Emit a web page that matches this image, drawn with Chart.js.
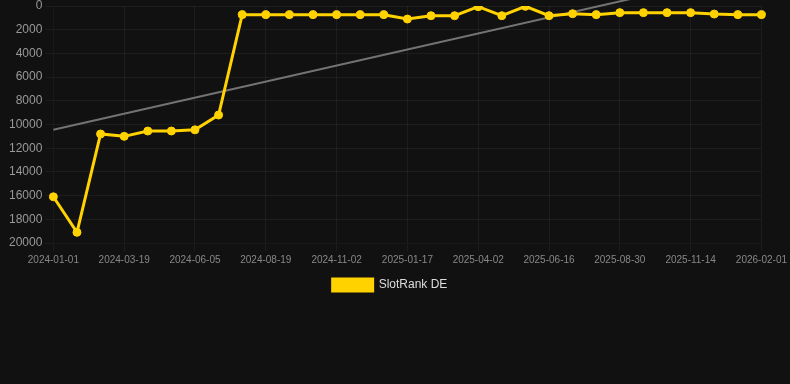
<!DOCTYPE html>
<html>
<head>
<meta charset="utf-8">
<script src="https://cdn.jsdelivr.net/npm/chart.js@4"></script>
<style>
  html, body { margin: 0; padding: 0; background: #111111; }
  #wrap { position: relative; width: 790px; height: 301px; }
</style>
</head>
<body>
<div id="wrap"><canvas id="c"></canvas></div>
<script>
const categories = [
  "2024-01-01","2024-01-26","2024-02-22","2024-03-19","2024-04-14","2024-05-10",
  "2024-06-05","2024-06-30","2024-07-25","2024-08-19","2024-09-13","2024-10-08",
  "2024-11-02","2024-11-27","2024-12-22","2025-01-17","2025-02-11","2025-03-08",
  "2025-04-02","2025-04-27","2025-05-22","2025-06-16","2025-07-11","2025-08-05",
  "2025-08-30","2025-09-24","2025-10-19","2025-11-14","2025-12-09","2026-01-05",
  "2026-02-01"
];
const slotRankDE = [
  16100, 19100, 10800, 11000, 10550, 10550, 10450, 9200, 730, 730,
  730, 730, 730, 730, 730, 1100, 820, 820, 60, 820,
  30, 820, 650, 730, 560, 560, 560, 560, 680, 730,
  730
];
const trendStart = 10450;
const trendEnd = -3100;
const trend = categories.map((_, i) => i === 0 ? trendStart : (i === categories.length - 1 ? trendEnd : null));
const yTicksMin = 0;
const yTicksMax = 20000;
const yTickStep = 2000;

new Chart(document.getElementById('c'), {
  type: 'line',
  data: {
    labels: categories,
    datasets: [
      {
        label: 'SlotRank DE',
        data: slotRankDE,
        borderColor: '#FFD200',
        backgroundColor: '#FFD200',
        borderWidth: 3,
        pointRadius: 4,
        pointBorderWidth: 1,
        pointHoverRadius: 5,
        pointBackgroundColor: '#FFD200',
        pointBorderColor: '#FFD200',
        tension: 0,
        fill: false,
        order: 1
      },
      {
        label: 'trend',
        data: trend,
        borderColor: 'rgba(140,140,140,0.8)',
        backgroundColor: 'rgba(140,140,140,0.8)',
        borderWidth: 2,
        pointRadius: 0,
        spanGaps: true,
        fill: false,
        clip: false,
        order: 2
      }
    ]
  },
  options: {
    responsive: true,
    maintainAspectRatio: false,
    animation: false,
    layout: { padding: { right: 10 } },
    plugins: {
      legend: {
        position: 'bottom',
        labels: {
          color: '#dddddd',
          font: { size: 12, family: 'Liberation Sans, Arial, sans-serif' },
          boxWidth: 40,
          filter: (item) => item.text !== 'trend'
        }
      },
      tooltip: { enabled: false }
    },
    scales: {
      x: {
        offset: false,
        grid: { color: 'rgba(255,255,255,0.05)' },
        ticks: {
          color: '#888888',
          font: { size: 10, family: 'Liberation Sans, Arial, sans-serif' },
          autoSkip: false,
          maxRotation: 0,
          callback: function(v, i) { return i % 3 === 0 ? this.getLabelForValue(v) : null; }
        }
      },
      y: {
        reverse: true,
        min: yTicksMin,
        max: yTicksMax,
        afterFit: (scale) => { scale.width += 6; },
        grid: { color: 'rgba(255,255,255,0.05)' },
        ticks: {
          stepSize: yTickStep,
          color: '#999999',
          font: { size: 12, family: 'Liberation Sans, Arial, sans-serif', lineHeight: 0.5 },
          callback: (v) => String(v)
        }
      }
    }
  }
});
</script>
</body>
</html>
